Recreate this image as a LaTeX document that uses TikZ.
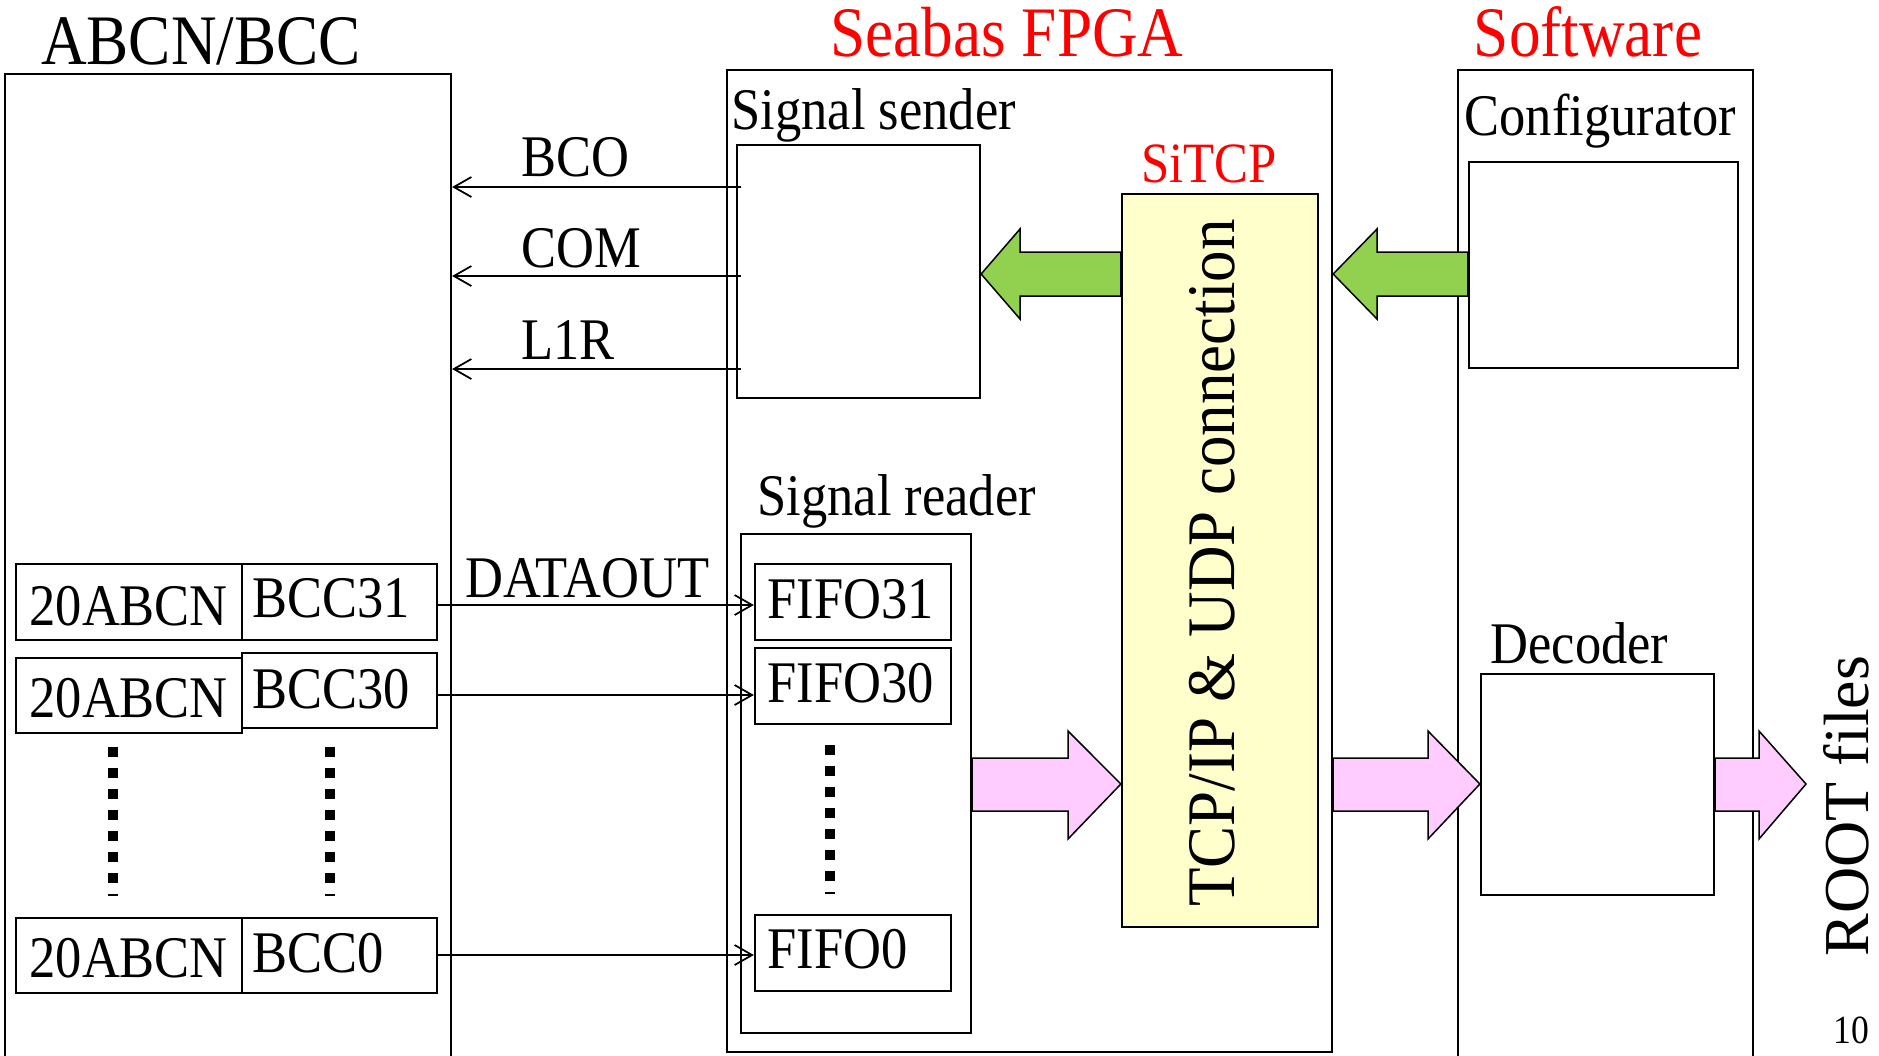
\documentclass[tikz,border=0pt]{standalone}
\usepackage{fontspec}
\setmainfont{Liberation Serif}
\usepackage{graphicx}
\usetikzlibrary{arrows.meta,fit,calc}
\definecolor{gfill}{HTML}{92D050}
\definecolor{pfill}{HTML}{FFCCFF}
\definecolor{yfill}{HTML}{FFFFCC}
\definecolor{tred}{HTML}{FF0000}
\newcommand{\cz}[1]{\scalebox{0.89}[1]{#1}}
\begin{document}
\begin{tikzpicture}[x=0.4pt,y=-0.4pt,
 box/.style={draw, line width=0.9pt, inner sep=0pt},
 lbl/.style={inner sep=0pt, font=\fontsize{23.6}{28}\selectfont},
 ttl/.style={inner sep=0pt, font=\fontsize{28.4}{34}\selectfont},
 sig/.style={line width=0.7pt, -{Straight Barb[length=7pt,width=8pt,line width=0.7pt]}},
 dotcol/.style={line width=4pt, dash pattern=on 3.8pt off 4.6pt},
 garrow/.style={draw, line width=0.6pt, fill=gfill, line join=miter},
 parrow/.style={draw, line width=0.6pt, fill=pfill, line join=miter},
]
\useasboundingbox (0,0) rectangle (1879,1055);

% titles
\node[ttl, anchor=base] (t1) at (201,64) {\cz{ABCN/BCC}};
\node[ttl, anchor=base, text=tred] (t2) at (1007,56) {\cz{Seabas FPGA}};
\node[ttl, anchor=base, text=tred] (t3) at (1588,56) {\cz{Software}};

% outer boxes
\node[box, fit={(5,74) (451,1100)}] (abcn) {};
\node[box, fit={(727,70) (1332,1052)}] (fpga) {};
\node[box, fit={(1458,70) (1753,1100)}] (soft) {};

% FPGA contents
\node[box, fit={(737,145) (980,398)}] (sender) {};
\node[lbl, anchor=base west] (sendl) at (731,129) {\cz{Signal sender}};
\node[box, fill=yfill, fit={(1122,194) (1318,927)}] (sitcp) {};
\node[lbl, anchor=base, text=tred, font=\fontsize{22.8}{27}\selectfont] (sitcpl) at (1209,182) {\cz{SiTCP}};
\node[inner sep=0pt, anchor=base, rotate=90, font=\fontsize{25.2}{30}\selectfont] (tcpl) at (1234,563) {\scalebox{1}[1.08]{TCP/IP \& UDP connection}};
\node[box, fit={(741,534) (971,1033)}] (reader) {};
\node[lbl, anchor=base west] (readl) at (757,515) {\cz{Signal reader}};
\node[box, fit={(755,564) (951,640)}] (f31) {};
\node[box, fit={(755,648) (951,724)}] (f30) {};
\node[box, fit={(755,915) (951,991)}] (f0) {};
\node[lbl, anchor=base west] (f31l) at (767,618) {\cz{FIFO31}};
\node[lbl, anchor=base west] (f30l) at (767,702) {\cz{FIFO30}};
\node[lbl, anchor=base west] (f0l) at (767,968) {\cz{FIFO0}};

% Software contents
\node[box, fit={(1469,162) (1738,368)}] (config) {};
\node[lbl, anchor=base west] (confl) at (1464,135) {\cz{Configurator}};
\node[box, fit={(1481,674) (1714,895)}] (dec) {};
\node[lbl, anchor=base west] (decl) at (1490,663) {\cz{Decoder}};

% ABCN/BCC contents
\node[box, fit={(16,564) (242,640)}] (a31) {};
\node[box, fit={(242,564) (437,640)}] (b31) {};
\node[box, fit={(16,658) (242,733)}] (a30) {};
\node[box, fit={(242,653) (437,728)}] (b30) {};
\node[box, fit={(16,918) (242,993)}] (a0) {};
\node[box, fit={(242,918) (437,993)}] (b0) {};
\node[lbl, anchor=base west] (a31l) at (29,625) {\cz{20ABCN}};
\node[lbl, anchor=base west] (a30l) at (29,717) {\cz{20ABCN}};
\node[lbl, anchor=base west] (a0l) at (29,977) {\cz{20ABCN}};
\node[lbl, anchor=base west] (b31l) at (252,617) {\cz{BCC31}};
\node[lbl, anchor=base west] (b30l) at (252,708) {\cz{BCC30}};
\node[lbl, anchor=base west] (b0l) at (252,972) {\cz{BCC0}};

% dotted columns
\draw[dotcol] (113,747) -- (113,896);
\draw[dotcol] (330,747) -- (330,896);
\draw[dotcol] (830,745) -- (830,894);

% signal lines
\node[lbl, anchor=base west] (bcol) at (521,176) {\cz{BCO}};
\node[lbl, anchor=base west] (coml) at (521,267) {\cz{COM}};
\node[lbl, anchor=base west] (l1rl) at (521,359) {\cz{L1R}};
\node[lbl, anchor=base west] (datal) at (465,597) {\cz{DATAOUT}};
\draw[sig] ($(sender.west |- 0,187)+(5,0)$) -- (abcn.east |- 0,187);
\draw[sig] ($(sender.west |- 0,276)+(5,0)$) -- (abcn.east |- 0,276);
\draw[sig] ($(sender.west |- 0,369)+(5,0)$) -- (abcn.east |- 0,369);
\draw[sig] (b31.east |- 0,605) -- (f31.west |- 0,605);
\draw[sig] (b30.east |- 0,695) -- (f30.west |- 0,695);
\draw[sig] (b0.east |- 0,955) -- (f0.west |- 0,955);

% green block arrows
\draw[garrow] (sender.east |- 0,274) -- (1020,229) -- (1020,252) -- (sitcp.west |- 0,252)
  -- (sitcp.west |- 0,296) -- (1020,296) -- (1020,319) -- cycle;
\draw[garrow] (fpga.east |- 0,274) -- (1377,229) -- (1377,252) -- (config.west |- 0,252)
  -- (config.west |- 0,296) -- (1377,296) -- (1377,319) -- cycle;

% pink block arrows
\draw[parrow] (reader.east |- 0,758) -- (1068,758) -- (1068,731) -- (sitcp.west |- 0,784)
  -- (1068,839) -- (1068,811) -- (reader.east |- 0,811) -- cycle;
\draw[parrow] (fpga.east |- 0,758) -- (1428,758) -- (1428,731) -- (dec.west |- 0,784)
  -- (1428,839) -- (1428,811) -- (fpga.east |- 0,811) -- cycle;
\coordinate (rootend) at (1806,784);
\draw[parrow] (dec.east |- 0,758) -- (1759,758) -- (1759,731) -- (rootend)
  -- (1759,839) -- (1759,811) -- (dec.east |- 0,811) -- cycle;

\node[inner sep=0pt, anchor=base, rotate=90, font=\fontsize{25.6}{30}\selectfont] (rootl) at (1868,806) {ROOT files};
\node[inner sep=0pt, anchor=base west, font=\fontsize{16}{19}\selectfont] (pg) at (1833,1043) {\cz{10}};
\end{tikzpicture}
\end{document}
